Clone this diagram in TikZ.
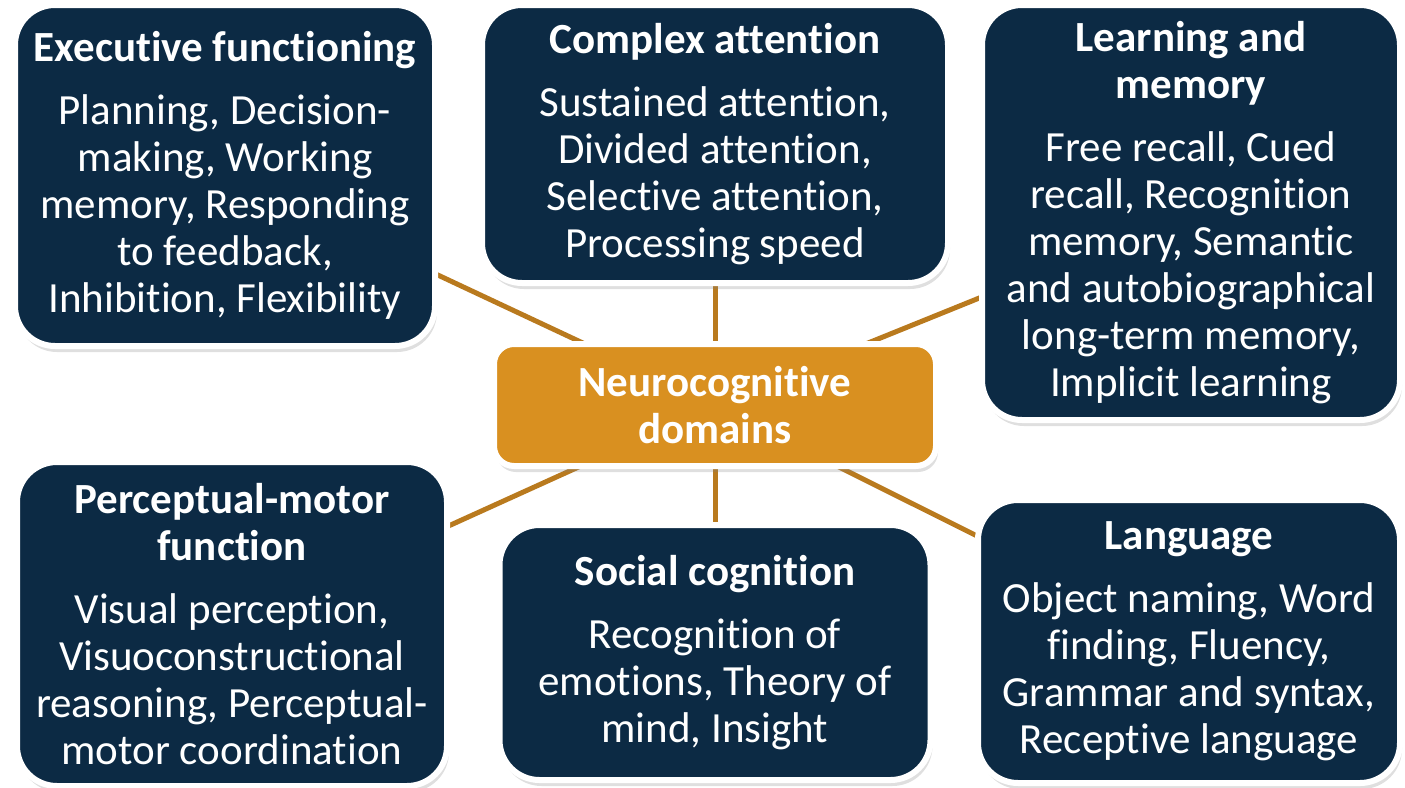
\documentclass[tikz,border=0pt]{standalone}
\usepackage{fontspec}
\setmainfont{Carlito}[Ligatures=NoCommon]
\usetikzlibrary{positioning,shadows,backgrounds}
\definecolor{navy}{HTML}{0C2A44}
\definecolor{amber}{HTML}{D99020}
\definecolor{linkc}{HTML}{B97A1E}
% space between heading and list
\newcommand{\gap}{\\[8pt]}

\begin{document}
\begin{tikzpicture}[font=\fontsize{21.5}{23.5}\selectfont,
  box/.style={draw=white,line width=3pt,fill=navy,text=white,rounded corners=20pt,align=center,inner sep=0pt,outer sep=0pt,drop shadow={shadow xshift=1pt,shadow yshift=-3pt,opacity=.25}},
  hub/.style={box,fill=amber,rounded corners=10pt},
  link/.style={draw=linkc,line width=2.5pt}]
\useasboundingbox (0,0) rectangle (702.5pt,-394pt);
\node[hub,minimum width=221pt,minimum height=61pt] (ctr) at (357.5pt,-202.5pt) {\textbf{Neurocognitive}\\\textbf{domains}};
\node[box,above=30.5pt of ctr,minimum width=233pt,minimum height=139pt] (att) {\textbf{Complex attention}\gap Sustained attention,\\Divided attention,\\Selective attention,\\Processing speed};
\node[box,below=29.5pt of ctr,minimum width=215.5pt,minimum height=127.5pt] (soc) {\textbf{Social cognition}\gap Recognition of\\emotions, Theory of\\mind, Insight};
\node[box,above left=-1pt and 29.5pt of ctr,minimum width=210pt,minimum height=170.5pt] (exe) {\textbf{Executive functioning}\gap Planning, Decision-\\making, Working\\memory, Responding\\to feedback,\\Inhibition, Flexibility};
\node[box,above right=-38pt and 23pt of ctr,minimum width=209pt,minimum height=207.5pt] (mem) {\textbf{Learning and}\\\textbf{memory}\gap Free recall, Cued\\recall, Recognition\\memory, Semantic\\and autobiographical\\long-term memory,\\Implicit learning};
\node[box,below left=-2pt and 23.5pt of ctr,minimum width=215pt,minimum height=162pt] (per) {\textbf{Perceptual-motor}\\\textbf{function}\gap Visual perception,\\Visuoconstructional\\reasoning, Perceptual-\\motor coordination};
\node[box,below right=17pt and 21pt of ctr,minimum width=211pt,minimum height=141.5pt] (lan) {\textbf{Language}\gap Object naming, Word\\finding, Fluency,\\Grammar and syntax,\\Receptive language};
\begin{scope}[on background layer]
\draw[link](ctr)--(exe);\draw[link](ctr)--(att);\draw[link](ctr)--(mem);
\draw[link](ctr)--(per);\draw[link](ctr)--(soc);\draw[link](ctr)--(lan);
\end{scope}
\end{tikzpicture}
\end{document}
